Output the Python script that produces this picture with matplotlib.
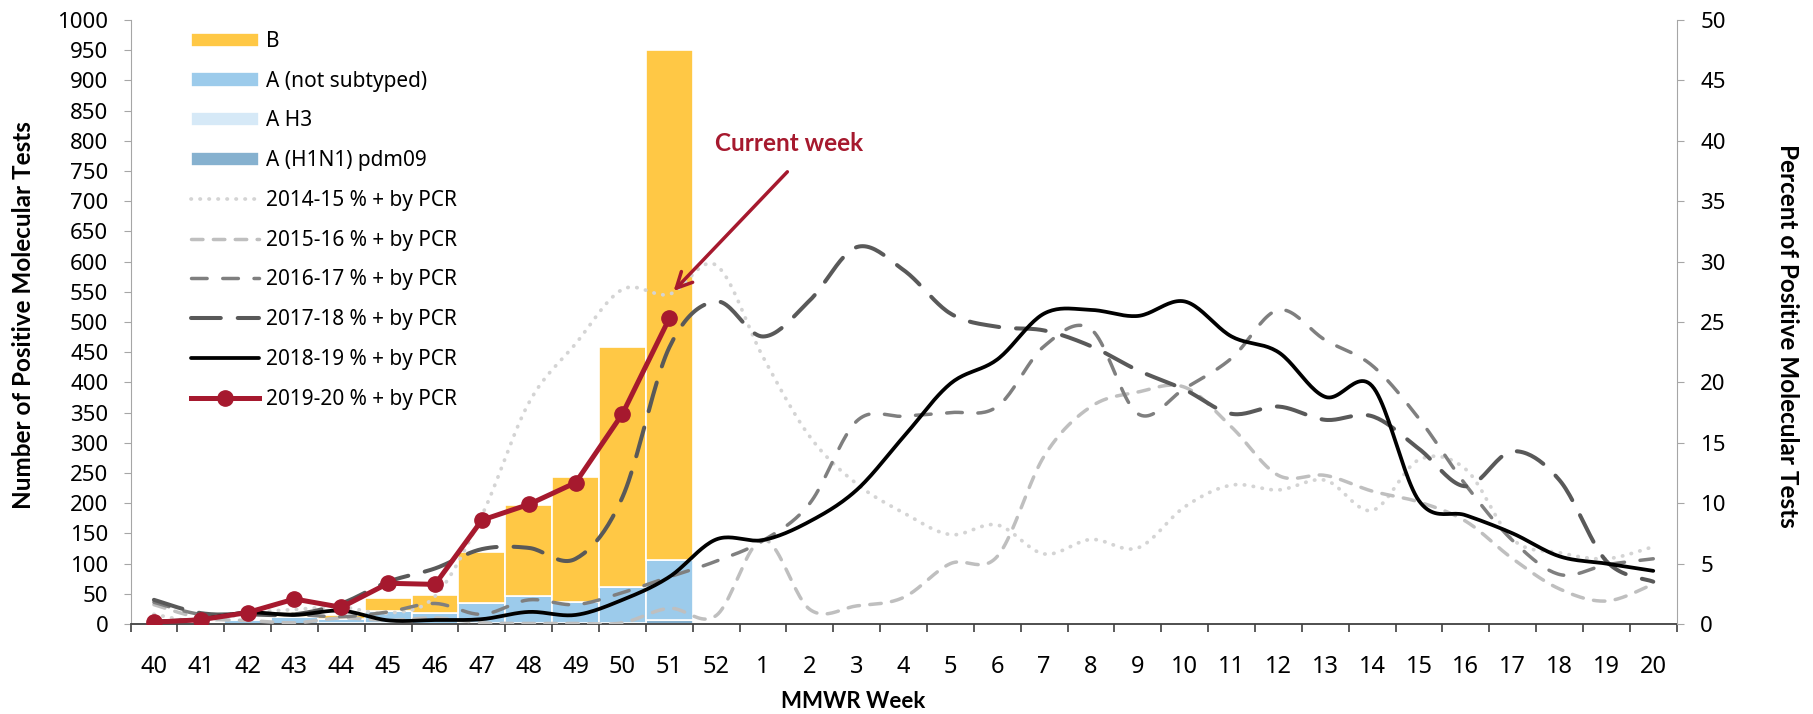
import matplotlib
matplotlib.use('Agg')
import matplotlib.pyplot as plt
import numpy as np

plt.rcParams['font.family'] = ['Noto Sans', 'DejaVu Sans']

weeks = [40, 41, 42, 43, 44, 45, 46, 47, 48, 49, 50, 51, 52,
         1, 2, 3, 4, 5, 6, 7, 8, 9, 10, 11, 12, 13, 14, 15, 16, 17, 18, 19, 20]

# stacked bars, weeks 40-51 of 2019-20 (counts)
h1n1 = [0, 0, 0, 0, 1, 1, 0, 1, 1, 1, 2, 6]
h3 = [0, 0, 0, 0, 0, 0, 0, 0, 1, 0, 0, 1]
a_nst = [1, 2, 7, 12, 8, 21, 19, 34, 45, 36, 60, 99]
flu_b = [0, 1, 2, 8, 6, 21, 29, 85, 150, 206, 396, 844]

# percent positive by season
pct_1415 = [0.8, 0.2, 0.9, 1.2, 1.4, 0.9, 2.3, 9.0, 18.3, 23.2, 27.7, 27.3, 29.7,
            22.1, 15.5, 11.6, 9.2, 7.4, 8.2, 5.8, 7.0, 6.3, 9.7, 11.5, 11.1, 11.9,
            9.4, 13.6, 12.8, 7.0, 5.9, 5.4, 6.4]
pct_1516 = [1.6, 0.5, 0.3, 0.1, 0.5, 0.3, 0.5, 0.1, 0.05, 0.05, 0.1, 1.3, 0.7,
            7.0, 1.2, 1.5, 2.2, 5.0, 5.6, 13.9, 18.0, 19.2, 19.6, 16.3, 12.3, 12.3,
            11.0, 10.1, 8.5, 5.4, 2.9, 1.9, 3.3]
pct_1617 = [1.8, 0.8, 0.9, 0.8, 0.6, 1.0, 1.7, 0.8, 2.0, 1.6, 2.6, 3.9, 5.2,
            6.9, 10.0, 16.8, 17.2, 17.5, 18.0, 23.0, 24.4, 17.4, 19.5, 22.0, 26.0, 23.5,
            21.4, 17.0, 11.5, 6.9, 4.1, 4.9, 5.4]
pct_1718 = [2.0, 0.9, 0.8, 0.8, 1.7, 3.5, 4.6, 6.2, 6.3, 5.4, 10.5, 22.9, 26.7,
            23.8, 26.8, 31.2, 29.3, 25.7, 24.6, 24.3, 23.0, 21.0, 19.4, 17.4, 18.0, 16.9,
            17.2, 14.5, 11.4, 14.3, 11.9, 5.2, 3.5]
pct_1819 = [0.2, 0.4, 0.95, 0.75, 1.1, 0.3, 0.33, 0.4, 1.0, 0.75, 2.0, 3.9, 7.0,
            6.95, 8.5, 11.1, 15.5, 19.9, 21.9, 25.7, 26.0, 25.5, 26.7, 23.8, 22.5, 18.8,
            19.7, 10.2, 9.0, 7.5, 5.6, 5.0, 4.4]
pct_1920 = [0.15, 0.35, 0.95, 2.07, 1.38, 3.37, 3.28, 8.6, 9.9, 11.7, 17.4, 25.3]

RED = '#A6192E'


def smooth(ys, n=24):
    # excel-like smoothed line (catmull-rom as cubic bezier)
    p = np.asarray(ys, float)
    xs = np.arange(len(p), dtype=float)
    ox, oy = [], []
    t = np.linspace(0, 1, n)
    for i in range(len(p) - 1):
        i0, i3 = max(i - 1, 0), min(i + 2, len(p) - 1)
        x1, x2 = xs[i], xs[i + 1]
        y1, y2 = p[i], p[i + 1]
        c1x, c1y = x1 + (x2 - xs[i0]) / 6, y1 + (y2 - p[i0]) / 6
        c2x, c2y = x2 - (xs[i3] - x1) / 6, y2 - (p[i3] - y1) / 6
        bx = (1-t)**3*x1 + 3*(1-t)**2*t*c1x + 3*(1-t)*t**2*c2x + t**3*x2
        by = (1-t)**3*y1 + 3*(1-t)**2*t*c1y + 3*(1-t)*t**2*c2y + t**3*y2
        ox.extend(bx if i == 0 else bx[1:])
        oy.extend(by if i == 0 else by[1:])
    return np.array(ox), np.array(oy)


fig = plt.figure(figsize=(18.13, 7.14), dpi=100)
L, R, B, T = 130.5, 1676.7, 624, 20
ax = fig.add_axes([L/1813, 1 - B/714, (R - L)/1813, (B - T)/714])
ax2 = ax.twinx()

xb = np.arange(len(flu_b))
bot = np.zeros(len(flu_b))
bars = []
for vals, col in [(h1n1, '#86B1CF'), (h3, '#D6E9F7'), (a_nst, '#9CCBEB'), (flu_b, '#FFC845')]:
    b = ax.bar(xb, vals, width=1.0, bottom=bot, color=col, edgecolor='white', linewidth=1.2)
    bars.append(b)
    bot = bot + np.array(vals)

ax.set_xlim(-0.5, len(weeks) - 0.5)
ax.set_ylim(0, 1000)
ax2.set_ylim(0, 50)

styles = [
    (pct_1415, '2014-15 % + by PCR', '#D4D4D4', 2.7, (0, (0.1, 2.3))),
    (pct_1516, '2015-16 % + by PCR', '#BFBFBF', 2.5, (0, (3.3, 3.0))),
    (pct_1617, '2016-17 % + by PCR', '#7F7F7F', 2.5, (0, (4.5, 4.5))),
    (pct_1718, '2017-18 % + by PCR', '#595959', 2.9, (0, (7.4, 4.2))),
    (pct_1819, '2018-19 % + by PCR', '#000000', 2.7, '-'),
]
lines = []
for vals, lab, col, lw, ls in styles:
    sx, sy = smooth(vals)
    ln, = ax2.plot(sx, sy, color=col, lw=lw, linestyle=ls, dash_capstyle='round',
                   solid_capstyle='round', label=lab)
    lines.append(ln)
red, = ax2.plot(np.arange(len(pct_1920)), pct_1920, color=RED, lw=3.6, marker='o',
                markersize=11, label='2019-20 % + by PCR', zorder=5)
lines.append(red)

# axes styling
for a in (ax, ax2):
    a.spines['top'].set_visible(False)
ax.spines['right'].set_visible(False)
ax2.spines['left'].set_visible(False)
ax2.spines['bottom'].set_visible(False)
ax.spines['left'].set_color('#A6A6A6')
ax2.spines['right'].set_color('#A6A6A6')
ax.spines['bottom'].set_color('#404040')
ax.spines['bottom'].set_linewidth(1.3)

ax.set_yticks(range(0, 1001, 50))
ax2.set_yticks(range(0, 51, 5))
ax.tick_params(axis='y', length=5, color='#A6A6A6', pad=11, labelsize=16)
ax2.tick_params(axis='y', length=5, color='#A6A6A6', pad=12, labelsize=16)

ax.set_xticks(np.arange(len(weeks)))
ax.set_xticklabels([str(w) for w in weeks])
ax.set_xticks(np.arange(-0.5, len(weeks)), minor=True)
ax.tick_params(axis='x', which='major', length=0, pad=22, labelsize=17)
ax.tick_params(axis='x', which='minor', length=6, color='#404040', width=1.2)

fig.text(23.5/1813, 1 - 315/714, 'Number of Positive Molecular Tests', rotation=90,
         ha='center', va='center', family='Lato', weight='bold', fontsize=17.5)
fig.text(1788/1813, 1 - 336/714, 'Percent of Positive Molecular Tests', rotation=270,
         ha='center', va='center', family='Lato', weight='bold', fontsize=17.5)
fig.text(853/1813, 1 - 702/714, 'MMWR Week', ha='center', va='center',
         family='Lato', weight='bold', fontsize=16)

# current week callout
ax2.annotate('', xy=(11.05, 27.4), xytext=(13.56, 37.6),
             arrowprops=dict(arrowstyle='->', color=RED, lw=2.5, mutation_scale=28))
ax2.text(13.56, 39.8, 'Current week', color=RED, ha='center', va='center',
         family='Lato', weight='bold', fontsize=17.5)

handles = [bars[3], bars[2], bars[1], bars[0]] + lines
labels = ['B', 'A (not subtyped)', 'A H3', 'A (H1N1) pdm09'] + [l.get_label() for l in lines]
ax2.legend(handles, labels, loc='upper left', bbox_to_anchor=(191/1813, 1 - 31/714),
           bbox_transform=fig.transFigure, frameon=False, fontsize=15,
           borderpad=0, borderaxespad=0, handlelength=3.25, handleheight=0.67,
           handletextpad=0.35, labelspacing=0.9)

fig.savefig('out.png', dpi=100)
